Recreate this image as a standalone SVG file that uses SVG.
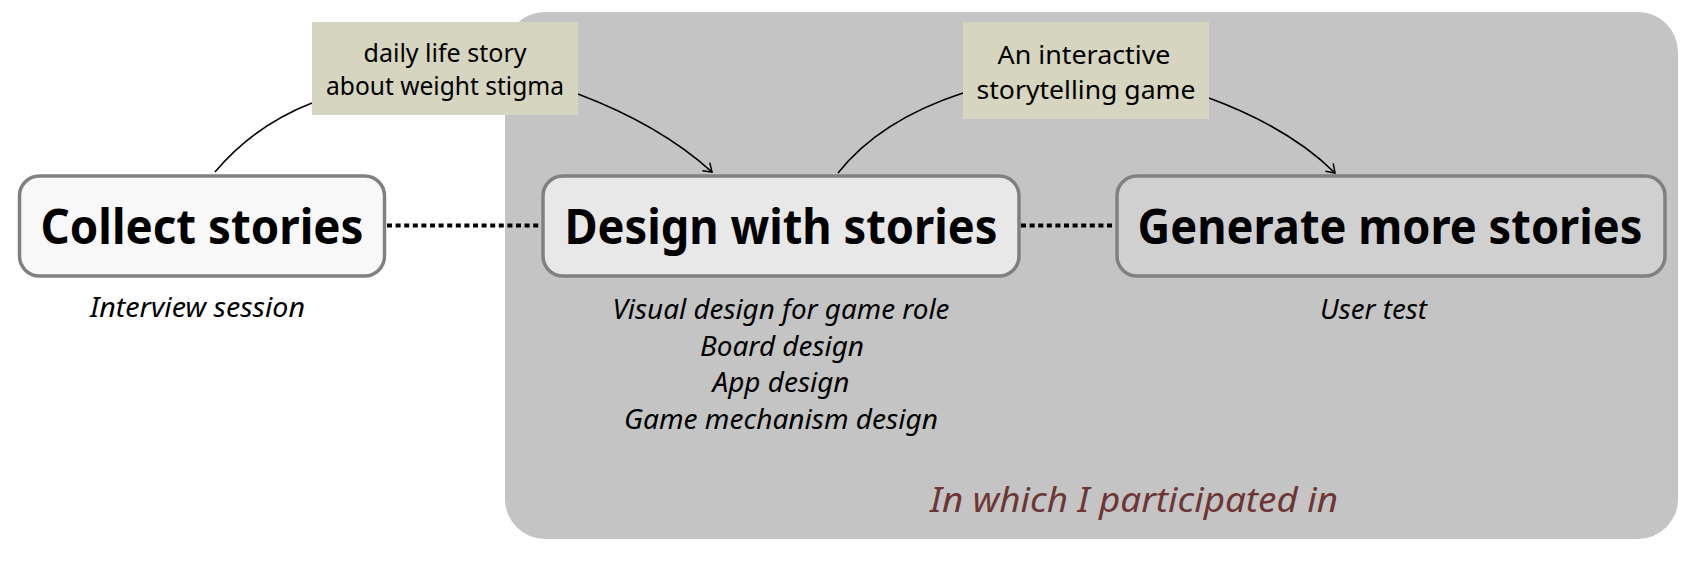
<svg xmlns="http://www.w3.org/2000/svg" width="1701" height="564" viewBox="0 0 1701 564">
<defs>
<marker id="arr" markerWidth="14" markerHeight="14" refX="11" refY="7" orient="auto" markerUnits="userSpaceOnUse">
<path d="M3,1.5 L11,7 L3,12.5" fill="none" stroke="#000" stroke-width="1.5"/>
</marker>
<style>
.node{stroke:#808080;stroke-width:3.5}
.title{font-family:"Noto Sans","Liberation Sans",sans-serif;font-weight:bold;font-size:49px;fill:#000;text-anchor:middle}
.sub{font-family:"Noto Sans","Liberation Sans",sans-serif;font-style:italic;font-size:27px;fill:#000;text-anchor:middle}
.lbl{fill:#d5d5c0}
.lt{font-family:"Noto Sans","Liberation Sans",sans-serif;font-size:25px;fill:#000;text-anchor:middle}
.curve{fill:none;stroke:#000;stroke-width:1.6}
.dot{fill:none;stroke:#000;stroke-width:4;stroke-dasharray:5 3.6}
</style>
</defs>
<rect width="1701" height="564" fill="#fff"/>
<g id="region">
<rect x="505" y="12" width="1173" height="527" rx="40" fill="#c4c4c4"/>
<text x="1134" y="512" font-family="Noto Sans, Liberation Sans, sans-serif" font-style="italic" font-size="35" fill="#6e3535" text-anchor="middle" textLength="408" lengthAdjust="spacingAndGlyphs">In which I participated in</text>
</g>
<g id="connectors">
<line class="dot" x1="387" y1="225.5" x2="541" y2="225.5"/>
<line class="dot" x1="1021" y1="225.5" x2="1115" y2="225.5"/>
<path class="curve" d="M215,172 Q255,125 312,103"/>
<path class="curve" d="M578,94 Q660,125 712,172" marker-end="url(#arr)"/>
<path class="curve" d="M838,173 Q880,120 963,93"/>
<path class="curve" d="M1209,98 Q1290,128 1335,173" marker-end="url(#arr)"/>
</g>
<g id="label1">
<rect class="lbl" x="312" y="22" width="266" height="93"/>
<text class="lt" x="445" y="62" textLength="163" lengthAdjust="spacingAndGlyphs">daily life story</text>
<text class="lt" x="445" y="95" textLength="238" lengthAdjust="spacingAndGlyphs">about weight stigma</text>
</g>
<g id="label2">
<rect class="lbl" x="963" y="22" width="246" height="97"/>
<text class="lt" x="1084" y="64" textLength="173" lengthAdjust="spacingAndGlyphs">An interactive</text>
<text class="lt" x="1086" y="99" textLength="219" lengthAdjust="spacingAndGlyphs">storytelling game</text>
</g>
<g id="collect">
<rect class="node" x="19.5" y="176" width="365" height="100" rx="20" fill="#f8f8f8"/>
<text class="title" x="202" y="244" textLength="323" lengthAdjust="spacingAndGlyphs">Collect stories</text>
<text class="sub" x="197.5" y="317" textLength="215" lengthAdjust="spacingAndGlyphs">Interview session</text>
</g>
<g id="design">
<rect class="node" x="543" y="176" width="476" height="100" rx="20" fill="#e8e8e8"/>
<text class="title" x="781" y="244" textLength="433" lengthAdjust="spacingAndGlyphs">Design with stories</text>
<text class="sub" x="781" y="319" textLength="337" lengthAdjust="spacingAndGlyphs">Visual design for game role</text>
<text class="sub" x="782" y="356" textLength="164" lengthAdjust="spacingAndGlyphs">Board design</text>
<text class="sub" x="781" y="392" textLength="137" lengthAdjust="spacingAndGlyphs">App design</text>
<text class="sub" x="781" y="429" textLength="314" lengthAdjust="spacingAndGlyphs">Game mechanism design</text>
</g>
<g id="generate">
<rect class="node" x="1117" y="176" width="548" height="100" rx="20" fill="#d0d0d0"/>
<text class="title" x="1390" y="244" textLength="505" lengthAdjust="spacingAndGlyphs">Generate more stories</text>
<text class="sub" x="1373.5" y="319" textLength="107" lengthAdjust="spacingAndGlyphs">User test</text>
</g>
</svg>
